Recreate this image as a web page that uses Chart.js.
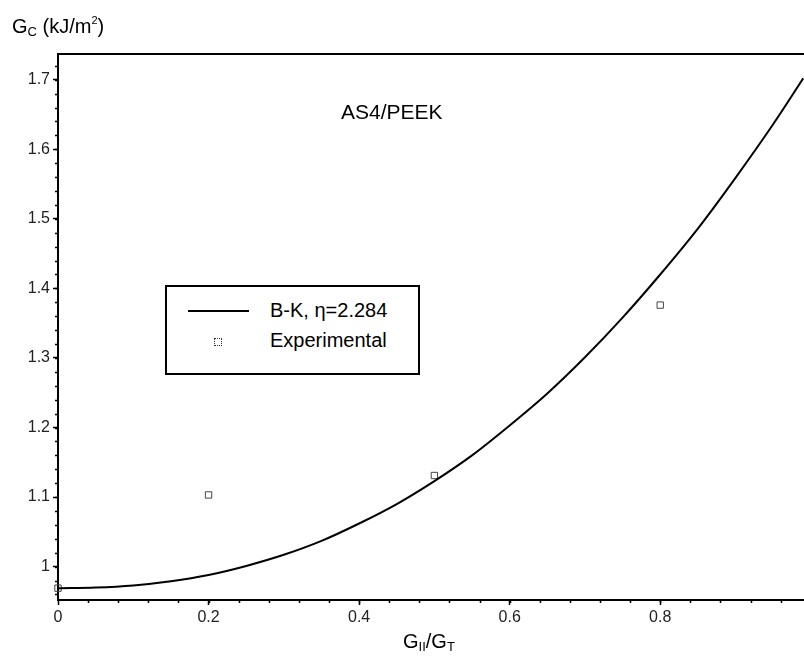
<!DOCTYPE html>
<html>
<head>
<meta charset="utf-8">
<script src="https://cdn.jsdelivr.net/npm/chart.js@4.4.1/dist/chart.umd.min.js"></script>
<style>
  body { margin: 0; background: #fff; }
  #wrap { position: relative; width: 804px; height: 658px; font-family: "Liberation Sans", Arial, sans-serif; color: #000; }
  .txt { position: absolute; line-height: 1; white-space: nowrap; }
  .sub { font-size: 13px; position: relative; top: 3px; }
  .sup { font-size: 11px; position: relative; top: -9px; }
  #legend { position: absolute; left: 165px; top: 285px; width: 251px; height: 86px; border: 2px solid #000; background: #fff; }
</style>
</head>
<body>
<div id="wrap">
  <canvas id="chart" width="804" height="658"></canvas>
  <div class="txt" style="left:12px; top:16px; font-size:20px;">G<span class="sub">C</span> (kJ/m<span class="sup">2</span>)</div>
  <div class="txt" style="left:403px; top:631px; font-size:20px;">G<span class="sub">II</span>/G<span class="sub">T</span></div>
  <div class="txt" style="left:341px; top:101px; font-size:21px;">AS4/PEEK</div>
  <div id="legend">
    <div style="position:absolute; left:21px; top:23px; width:61px; height:2px; background:#000;"></div>
    <div style="position:absolute; left:47px; top:51px; width:6px; height:6px; border:1px dotted #333;"></div>
    <div class="txt" style="left:103px; top:13px; font-size:20px;">B-K, &eta;=2.284</div>
    <div class="txt" style="left:103px; top:43px; font-size:20px;">Experimental</div>
  </div>
</div>
<script>
// B-K fit curve
const curveX = [0, 0.05, 0.1, 0.15, 0.2, 0.25, 0.3, 0.35, 0.4, 0.45, 0.5,
                0.55, 0.6, 0.65, 0.7, 0.75, 0.8, 0.85, 0.9, 0.95, 0.99];
const curveY = [0.969, 0.970, 0.973, 0.979, 0.988, 1.001, 1.017, 1.037, 1.062, 1.090, 1.123,
                1.160, 1.203, 1.249, 1.301, 1.358, 1.420, 1.486, 1.559, 1.636, 1.702];

// experimental points
const expX = [0, 0.2, 0.5, 0.8];
const expY = [0.969, 1.103, 1.131, 1.376];

// axis ticks
const xTicks = [0, 0.2, 0.4, 0.6, 0.8];
const xTickLabels = ['0', '0.2', '0.4', '0.6', '0.8'];
const yTicks = [1.0, 1.1, 1.2, 1.3, 1.4, 1.5, 1.6, 1.7];
const yTickLabels = ['1', '1.1', '1.2', '1.3', '1.4', '1.5', '1.6', '1.7'];

// minor ticks + top frame line
const frameTicks = {
  id: 'frameTicks',
  afterDraw(chart) {
    const { ctx, chartArea, scales } = chart;
    ctx.save();
    ctx.strokeStyle = '#000';
    ctx.lineWidth = 1.5;
    ctx.beginPath();
    for (let v = 0.04; v < scales.x.max; v += 0.04) {
      const px = Math.round(scales.x.getPixelForValue(v)) + 0.5;
      ctx.moveTo(px, chartArea.bottom);
      ctx.lineTo(px, chartArea.bottom + 3);
    }
    for (let v = 0.96; v < scales.y.max; v += 0.02) {
      const py = Math.round(scales.y.getPixelForValue(v)) + 0.5;
      ctx.moveTo(chartArea.left, py);
      ctx.lineTo(chartArea.left - 3, py);
    }
    ctx.stroke();
    ctx.lineWidth = 2;
    ctx.beginPath();
    ctx.moveTo(chartArea.left, chartArea.top);
    ctx.lineTo(chartArea.right, chartArea.top);
    ctx.stroke();
    ctx.restore();
  }
};

const ctx = document.getElementById('chart').getContext('2d');
new Chart(ctx, {
  type: 'scatter',
  data: {
    datasets: [
      {
        label: 'B-K, η=2.284',
        data: curveX.map((x, i) => ({ x: x, y: curveY[i] })),
        showLine: true,
        borderColor: '#000',
        borderWidth: 2,
        pointRadius: 0,
        cubicInterpolationMode: 'monotone'
      },
      {
        label: 'Experimental',
        data: expX.map((x, i) => ({ x: x, y: expY[i] })),
        pointStyle: 'rect',
        pointRadius: 4.5,
        backgroundColor: 'rgba(0,0,0,0)',
        borderColor: '#444',
        borderWidth: 1,
        clip: false
      }
    ]
  },
  options: {
    responsive: false,
    animation: false,
    layout: { autoPadding: false, padding: { left: 0, top: 54, right: 0, bottom: 0 } },
    plugins: {
      legend: { display: false },
      tooltip: { enabled: false }
    },
    scales: {
      x: {
        type: 'linear',
        min: 0,
        max: 0.991,
        afterBuildTicks: (axis) => { axis.ticks = xTicks.map(v => ({ value: v })); },
        afterFit: (axis) => { axis.height = 58; axis.paddingRight = 0; axis.paddingLeft = 0; },
        grid: { drawOnChartArea: false, tickLength: 5, tickColor: '#000', tickWidth: 1.5 },
        border: { display: true, color: '#000', width: 2 },
        ticks: {
          padding: 3,
          color: '#222',
          font: { family: 'Liberation Sans', size: 16 },
          callback: (v, i) => xTickLabels[i]
        }
      },
      y: {
        type: 'linear',
        min: 0.952,
        max: 1.737,
        afterBuildTicks: (axis) => { axis.ticks = yTicks.map(v => ({ value: v })); },
        afterFit: (axis) => { axis.width = 58; axis.paddingTop = 0; axis.paddingBottom = 0; },
        grid: { drawOnChartArea: false, tickLength: 5, tickColor: '#000', tickWidth: 1.5 },
        border: { display: true, color: '#000', width: 2 },
        ticks: {
          padding: 3,
          color: '#222',
          font: { family: 'Liberation Sans', size: 16 },
          callback: (v, i) => yTickLabels[i]
        }
      }
    }
  },
  plugins: [frameTicks]
});
</script>
</body>
</html>
